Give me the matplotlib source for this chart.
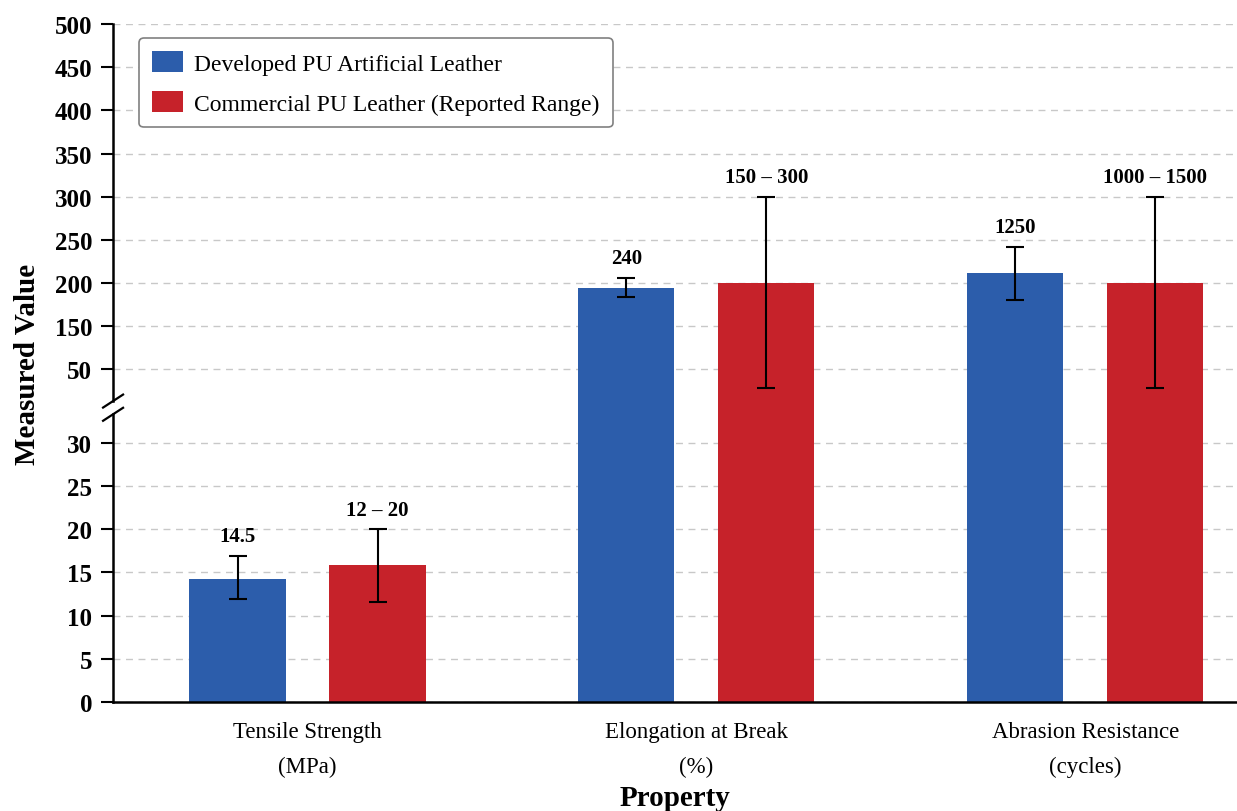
import numpy as np
import matplotlib
matplotlib.use("Agg")
import matplotlib.pyplot as plt
from matplotlib.lines import Line2D
from matplotlib.transforms import IdentityTransform

# ---------------- data ----------------
categories = ["Tensile Strength\n(MPa)", "Elongation at Break\n(%)", "Abrasion Resistance\n(cycles)"]
series_names = ["Developed PU Artificial Leather", "Commercial PU Leather (Reported Range)"]
developed_vals = [14.3, 194.5, 211.5]
developed_lo = [11.9, 184.0, 181.0]
developed_hi = [16.9, 206.0, 242.0]
commercial_vals = [15.9, 200.0, 200.0]
commercial_lo = [11.6, 45.0, 45.0]
commercial_hi = [20.0, 300.0, 300.0]
developed_labels = ["14.5", "240", "1250"]
commercial_labels = ["12 – 20", "150 – 300", "1000 – 1500"]
ytick_vals = [0, 5, 10, 15, 20, 25, 30, 50, 150, 200, 250, 300, 350, 400, 450, 500]

# broken-axis scale knots (value -> position)
knot_vals = np.array([0.0, 30.0, 50.0, 150.0, 500.0])
knot_pos = np.array([0.0, 6.0, 7.7, 8.7, 15.7])

def fwd(v):
    return np.interp(np.asarray(v, dtype=float), knot_vals, knot_pos)

def inv(p):
    return np.interp(np.asarray(p, dtype=float), knot_pos, knot_vals)

plt.rcParams["font.family"] = ["Liberation Serif", "DejaVu Serif"]

BLUE = "#2C5DAB"
RED = "#C6222A"

fig = plt.figure(figsize=(12.37, 8.12), dpi=100)
ax = fig.add_axes([0.0914, 0.1342, 0.9086, 0.8350])
ax.set_yscale("function", functions=(fwd, inv))
ax.set_ylim(0, 500)
ax.set_xlim(-0.5, 2.39)

x = np.arange(len(categories))
w = 0.247
off = 0.18

for v in ytick_vals:
    ax.axhline(v, color="#c8c8c8", lw=1.0, ls=(0, (5, 4)), zorder=0)

dev_err = [np.array(developed_vals) - np.array(developed_lo), np.array(developed_hi) - np.array(developed_vals)]
com_err = [np.array(commercial_vals) - np.array(commercial_lo), np.array(commercial_hi) - np.array(commercial_vals)]

ax.bar(x - off, developed_vals, w, color=BLUE, label=series_names[0], zorder=2)
ax.bar(x + off, commercial_vals, w, color=RED, label=series_names[1], zorder=2)
ax.errorbar(x - off, developed_vals, yerr=dev_err, fmt="none", ecolor="black",
            elinewidth=1.5, capsize=6.8, capthick=1.5, zorder=3)
ax.errorbar(x + off, commercial_vals, yerr=com_err, fmt="none", ecolor="black",
            elinewidth=1.5, capsize=6.8, capthick=1.5, zorder=3)

for xi, hi, lab in zip(x - off, developed_hi, developed_labels):
    ax.annotate(lab, (xi, hi), xytext=(0, 7), textcoords="offset points",
                ha="center", va="bottom", fontsize=15, fontweight="bold")
for xi, hi, lab in zip(x + off, commercial_hi, commercial_labels):
    ax.annotate(lab, (xi, hi), xytext=(0, 7), textcoords="offset points",
                ha="center", va="bottom", fontsize=15, fontweight="bold")

ax.set_yticks(ytick_vals)
ax.set_yticklabels([str(v) for v in ytick_vals], fontsize=18, fontweight="bold")
ax.set_xticks(x)
ax.set_xticklabels(categories, fontsize=16.5, linespacing=1.85)
ax.tick_params(axis="x", length=0, pad=14)
ax.tick_params(axis="y", length=9, width=1.5, direction="out", pad=6)
ax.minorticks_off()

for s in ["top", "right", "left"]:
    ax.spines[s].set_visible(False)
ax.spines["bottom"].set_linewidth(1.8)

ax.set_xlabel("Property", fontsize=21, fontweight="bold", labelpad=5)
ax.set_ylabel("Measured Value", fontsize=21, fontweight="bold", labelpad=10)

# broken left spine with slashes
gap_lo, gap_hi = 37.8, 41.4
tr = ax.get_yaxis_transform()
ax.plot([0, 0], [0, gap_lo], color="black", lw=1.8, transform=tr, clip_on=False, zorder=5)
ax.plot([0, 0], [gap_hi, 500], color="black", lw=1.8, transform=tr, clip_on=False, zorder=5)
fig.canvas.draw()
for v in (gap_lo, gap_hi):
    px, py = ax.transData.transform((ax.get_xlim()[0], v))
    fig.add_artist(Line2D([px - 10, px + 10], [py - 6.5, py + 6.5], color="black", lw=1.6,
                          transform=IdentityTransform()))

leg = ax.legend(loc="upper left", bbox_to_anchor=(0.023, 0.979), borderaxespad=0,
                fontsize=17, frameon=True, fancybox=True, edgecolor="#808080", framealpha=1,
                handlelength=1.31, handleheight=1.0, borderpad=0.54, labelspacing=0.69,
                handletextpad=0.5)
leg.get_frame().set_linewidth(1.2)

fig.savefig("out.png", dpi=100)
